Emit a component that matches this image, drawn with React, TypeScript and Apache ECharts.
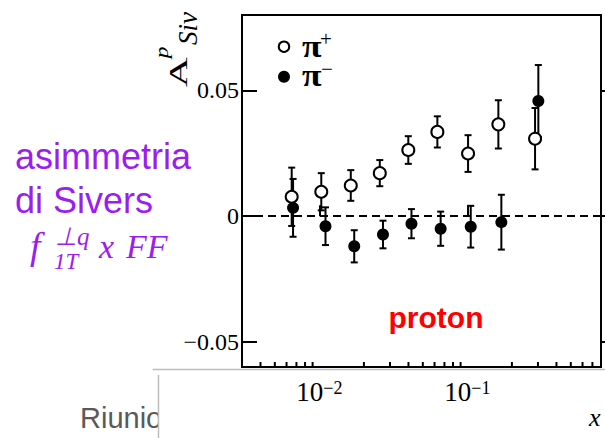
import { useEffect, useRef } from 'react';
import * as echarts from 'echarts';

// pi+ (open markers): x, asymmetry, statistical error
const xPlus = [0.0065, 0.0103, 0.0163, 0.0256, 0.0399, 0.0627, 0.1011, 0.162, 0.2867];
const yPlus = [0.0077, 0.0097, 0.0122, 0.0171, 0.0263, 0.0335, 0.0249, 0.0365, 0.0308];
const ePlus = [0.0116, 0.0074, 0.0061, 0.0052, 0.0055, 0.0062, 0.0073, 0.0096, 0.0122];

// pi- (filled markers)
const xMinus = [0.00664, 0.011, 0.0172, 0.0269, 0.0419, 0.066, 0.1054, 0.1697, 0.3018];
const yMinus = [0.0033, -0.004, -0.012, -0.0073, -0.003, -0.005, -0.0042, -0.0024, 0.0458];
const eMinus = [0.0115, 0.0075, 0.0064, 0.0055, 0.0058, 0.0068, 0.0083, 0.0109, 0.0143];

// axes
const xMin = 0.003;
const xMax = 0.8;
const yMin = -0.06;
const yMax = 0.08;
const yTickValues = [-0.05, 0, 0.05];
const xMinorTicks = [
  0.004, 0.005, 0.006, 0.007, 0.008, 0.009,
  0.02, 0.03, 0.04, 0.05, 0.06, 0.07, 0.08, 0.09,
  0.2, 0.3, 0.4, 0.5, 0.6, 0.7,
];

const SERIF = 'Liberation Serif';
const SANS = 'Liberation Sans';
const PURPLE = '#9d1cf2';

function errorBarItem(params: any, api: any) {
  const x = api.value(0);
  const top = api.coord([x, api.value(2)]);
  const bot = api.coord([x, api.value(1)]);
  const c = 3.5;
  const style = { stroke: '#000', lineWidth: 2 };
  return {
    type: 'group',
    children: [
      { type: 'line', shape: { x1: top[0], y1: top[1], x2: bot[0], y2: bot[1] }, style },
      { type: 'line', shape: { x1: top[0] - c, y1: top[1], x2: top[0] + c, y2: top[1] }, style },
      { type: 'line', shape: { x1: bot[0] - c, y1: bot[1], x2: bot[0] + c, y2: bot[1] }, style },
    ],
  };
}

function minorTickItem(params: any, api: any) {
  const p = api.coord([api.value(0), yMin]);
  return {
    type: 'line',
    shape: { x1: p[0], y1: p[1], x2: p[0], y2: p[1] - 5 },
    style: { stroke: '#000', lineWidth: 2 },
  };
}

export default function App() {
  const ref = useRef<HTMLDivElement>(null);

  useEffect(() => {
    if (!ref.current) return;
    const chart = echarts.init(ref.current, null, { renderer: 'svg' });

    const yLabel = (v: number) => (v === 0 ? '0' : v < 0 ? '\u2212' + Math.abs(v) : String(v));

    chart.setOption({
      animation: false,
      backgroundColor: '#fff',
      grid: {
        left: 242,
        right: 4,
        top: 15,
        bottom: 71,
        show: true,
        borderColor: '#000',
        borderWidth: 2,
        backgroundColor: 'transparent',
      },
      xAxis: {
        type: 'log',
        min: xMin,
        max: xMax,
        z: 5,
        axisLine: { show: false },
        splitLine: { show: false },
        axisTick: { show: true, inside: true, length: 11, lineStyle: { color: '#000', width: 2 } },
        axisLabel: {
          margin: 12,
          formatter: (v: number) => {
            const l = Math.log10(v);
            const e = Math.round(l);
            if (Math.abs(l - e) > 1e-6) return '';
            return `{b|10}{s|${e < 0 ? '\u2212' : ''}${Math.abs(e)}}`;
          },
          rich: {
            b: { fontFamily: SERIF, fontSize: 27, color: '#000', lineHeight: 26 },
            s: { fontFamily: SERIF, fontSize: 18, color: '#000', lineHeight: 14, verticalAlign: 'top' },
          },
        },
      },
      yAxis: [
        {
          type: 'value',
          min: yMin,
          max: yMax,
          axisLine: { show: false },
          splitLine: { show: false },
          axisTick: {
            show: true,
            inside: true,
            length: 15,
            customValues: yTickValues,
            lineStyle: { color: '#000', width: 2 },
          },
          axisLabel: {
            customValues: yTickValues,
            formatter: yLabel,
            fontFamily: SERIF,
            fontSize: 24,
            color: '#000',
            margin: 3,
          },
        },
        {
          type: 'value',
          position: 'right',
          min: yMin,
          max: yMax,
          axisLine: { show: false },
          splitLine: { show: false },
          axisLabel: { show: false },
          axisTick: {
            show: true,
            inside: false,
            length: 4,
            customValues: yTickValues,
            lineStyle: { color: '#000', width: 2 },
          },
        },
      ],
      series: [
        {
          type: 'custom',
          name: 'err+',
          renderItem: errorBarItem,
          encode: { x: 0, y: [1, 2] },
          data: xPlus.map((x, i) => [x, yPlus[i] - ePlus[i], yPlus[i] + ePlus[i]]),
          markLine: {
            silent: true,
            symbol: ['none', 'none'],
            label: { show: false },
            lineStyle: { color: '#000', width: 2, type: [8, 5], opacity: 1 },
            data: [{ yAxis: 0 }],
          },
        },
        {
          type: 'scatter',
          name: 'pi+',
          symbol: 'circle',
          symbolSize: 12,
          itemStyle: { color: '#fff', borderColor: '#000', borderWidth: 2, opacity: 1 },
          data: xPlus.map((x, i) => [x, yPlus[i]]),
        },
        {
          type: 'custom',
          name: 'err-',
          renderItem: errorBarItem,
          encode: { x: 0, y: [1, 2] },
          data: xMinus.map((x, i) => [x, yMinus[i] - eMinus[i], yMinus[i] + eMinus[i]]),
        },
        {
          type: 'scatter',
          name: 'pi-',
          symbol: 'circle',
          symbolSize: 12,
          itemStyle: { color: '#000', opacity: 1 },
          data: xMinus.map((x, i) => [x, yMinus[i]]),
        },
        {
          type: 'custom',
          name: 'minor',
          renderItem: minorTickItem,
          encode: { x: 0, y: 1 },
          data: xMinorTicks.map((v) => [v, yMin]),
        },
      ],
      graphic: [
        // slide text on the left
        { type: 'text', x: 15, y: 156.3, z: 10, style: { text: 'asimmetria', fontFamily: SANS, fontSize: 36, fill: PURPLE, verticalAlign: 'middle' } },
        { type: 'text', x: 15, y: 200.8, z: 10, style: { text: 'di Sivers', fontFamily: SANS, fontSize: 36, fill: PURPLE, verticalAlign: 'middle' } },
        { type: 'text', x: 30, y: 246, z: 10, style: { text: 'f', fontFamily: SERIF, fontStyle: 'italic', fontSize: 38, fill: PURPLE, verticalAlign: 'middle' } },
        { type: 'text', x: 55, y: 236.5, z: 10, style: { text: '\u22a5q', fontFamily: SERIF, fontStyle: 'italic', fontSize: 25, fill: PURPLE, verticalAlign: 'middle' } },
        { type: 'text', x: 54, y: 261, z: 10, style: { text: '1T', fontFamily: SERIF, fontStyle: 'italic', fontSize: 23, fill: PURPLE, verticalAlign: 'middle' } },
        { type: 'text', x: 99, y: 246.5, z: 10, style: { text: 'x', fontFamily: SERIF, fontStyle: 'italic', fontSize: 34, fill: PURPLE, verticalAlign: 'middle' } },
        { type: 'text', x: 126, y: 246.5, z: 10, style: { text: 'FF', fontFamily: SERIF, fontStyle: 'italic', fontSize: 34, fill: PURPLE, verticalAlign: 'middle' } },
        // footer text partly covered by the lower panel
        { type: 'text', x: 80, y: 418, z: -2, style: { text: 'Riunione', fontFamily: SANS, fontSize: 29, fill: '#595959', verticalAlign: 'middle' } },
        { type: 'rect', z: -1, shape: { x: 158.5, y: 372, width: 447, height: 66 }, style: { fill: '#fff' } },
        { type: 'line', z: -1, shape: { x1: 158.5, y1: 375, x2: 158.5, y2: 438 }, style: { stroke: '#bdbdbd', lineWidth: 1.5 } },
        { type: 'line', z: -1, shape: { x1: 152.7, y1: 369.5, x2: 605, y2: 369.5 }, style: { stroke: '#bdbdbd', lineWidth: 1.5 } },
        // target label
        { type: 'text', x: 436, y: 317.8, z: 10, style: { text: 'proton', fontFamily: SANS, fontWeight: 'bold', fontSize: 30, fill: '#ff0000', align: 'center', verticalAlign: 'middle' } },
        // legend
        { type: 'circle', z: 10, shape: { cx: 284, cy: 46.7, r: 5.2 }, style: { fill: '#fff', stroke: '#000', lineWidth: 2 } },
        { type: 'circle', z: 10, shape: { cx: 284, cy: 76.7, r: 6 }, style: { fill: '#000' } },
        { type: 'text', x: 302, y: 46.5, z: 10, scaleX: 1.15, style: { text: '\u03c0', fontFamily: SERIF, fontWeight: 'bold', fontSize: 31, fill: '#000', verticalAlign: 'middle' } },
        { type: 'text', x: 320, y: 39, z: 10, style: { text: '+', fontFamily: SERIF, fontSize: 21, fill: '#000', verticalAlign: 'middle' } },
        { type: 'text', x: 302, y: 75, z: 10, scaleX: 1.15, style: { text: '\u03c0', fontFamily: SERIF, fontWeight: 'bold', fontSize: 31, fill: '#000', verticalAlign: 'middle' } },
        { type: 'text', x: 321, y: 68.5, z: 10, style: { text: '\u2212', fontFamily: SERIF, fontSize: 21, fill: '#000', verticalAlign: 'middle' } },
        // y-axis title A^p_Siv, reading bottom to top
        { type: 'text', x: 178.5, y: 87.3, rotation: Math.PI / 2, scaleX: 1.6, z: 10, style: { text: 'A', fontFamily: SERIF, fontSize: 26, fill: '#000', align: 'left', verticalAlign: 'middle' } },
        { type: 'text', x: 161.9, y: 58.3, rotation: Math.PI / 2, scaleX: 1.3, z: 10, style: { text: 'p', fontFamily: SERIF, fontStyle: 'italic', fontSize: 18, fill: '#000', align: 'left', verticalAlign: 'middle' } },
        { type: 'text', x: 187.5, y: 45, rotation: Math.PI / 2, z: 10, style: { text: 'Siv', fontFamily: SERIF, fontStyle: 'italic', fontSize: 27, fill: '#000', align: 'left', verticalAlign: 'middle' } },
        // x-axis title
        { type: 'text', x: 589, y: 417.9, z: 10, style: { text: 'x', fontFamily: SERIF, fontStyle: 'italic', fontSize: 26, fill: '#000', verticalAlign: 'middle' } },
      ],
    });

    return () => chart.dispose();
  }, []);

  return (
    <div
      ref={ref}
      style={{ position: 'fixed', left: 0, top: 0, width: 605, height: 438 }}
    />
  );
}
